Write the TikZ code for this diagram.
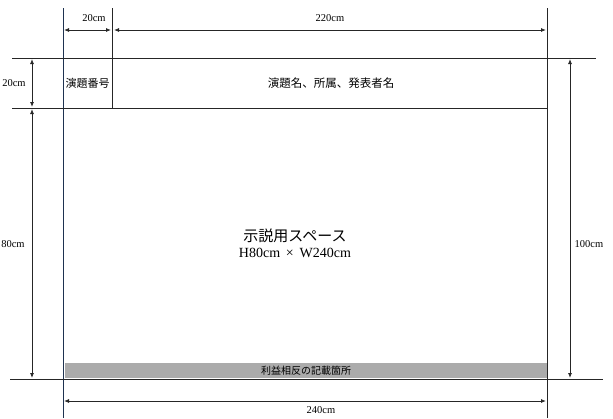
\documentclass[tikz,border=0pt]{standalone}
\usepackage{fontspec}
\setmainfont{Liberation Serif}
\newfontfamily\jpfont{Noto Sans CJK JP}
\usetikzlibrary{arrows.meta}
\begin{document}
\begin{tikzpicture}[x=1pt,y=-1pt,
  edge/.style={line width=0.85pt,draw=black!85},
  dim/.style={line width=0.85pt,draw=black!85,{Latex[length=5pt,width=4pt]}-{Latex[length=5pt,width=4pt]}},
  lbl/.style={font=\fontsize{10.5}{12}\selectfont,inner sep=0pt},
  jp/.style={font=\jpfont\fontsize{11}{12}\selectfont,inner sep=0pt}]
\useasboundingbox (0,0) rectangle (613,418);
% coordinates
\coordinate (Ltop) at (63,8);   \coordinate (Lbot) at (63,418);
\coordinate (Rtop) at (547,8);  \coordinate (Rbot) at (547,418);
\coordinate (Mtop) at (112,8);  \coordinate (Mbot) at (112,108);
\coordinate (H1a) at (12,58);   \coordinate (H1b) at (596,58);
\coordinate (H2a) at (12,108);  \coordinate (H2b) at (547,108);
\coordinate (H3a) at (10,379);  \coordinate (H3b) at (603,379);
% gray band
\fill[fill=black!33] (65,363) rectangle (547,378);
\node[jp,font=\jpfont\fontsize{10}{12}\selectfont] (coi) at (306,370.5) {利益相反の記載箇所};
% frame lines
\draw[edge,draw={rgb,255:red,30;green,50;blue,80}] (Ltop) -- (Lbot);
\draw[edge] (Rtop) -- (Rbot);
\draw[edge] (Mtop) -- (Mbot);
\draw[edge] (H1a) -- (H1b);
\draw[edge] (H2a) -- (H2b);
\draw[edge] (H3a) -- (H3b);
% dimension coordinates
\coordinate (t1a) at (64,30);  \coordinate (t1b) at (111,30);
\coordinate (t2a) at (114,30); \coordinate (t2b) at (546,30);
\coordinate (l1a) at (32,59);  \coordinate (l1b) at (32,107);
\coordinate (l2a) at (32,109); \coordinate (l2b) at (32,378);
\coordinate (r1a) at (570,59); \coordinate (r1b) at (570,378);
\coordinate (b1a) at (64,401); \coordinate (b1b) at (546,401);
\draw[dim] (t1a) -- (t1b);
\draw[dim] (t2a) -- (t2b);
\draw[dim] (l1a) -- (l1b);
\draw[dim] (l2a) -- (l2b);
\draw[dim] (r1a) -- (r1b);
\draw[dim] (b1a) -- (b1b);
% labels
\node[lbl] (d20t) at (94,18) {20cm};
\node[lbl] (d220) at (330,18) {220cm};
\node[lbl] (d20l) at (14,83) {20cm};
\node[lbl] (d80) at (13,244) {80cm};
\node[lbl] (d100) at (589,244) {100cm};
\node[lbl] (d240) at (321,410) {240cm};
\node[jp] (num) at (87.5,83) {演題番号};
\node[jp,font=\jpfont\fontsize{11.5}{12}\selectfont] (title) at (331,83) {演題名、所属、発表者名};
\node[jp,font=\jpfont\fontsize{15}{16}\selectfont] (sp1) at (295,236) {示説用スペース};
\node[lbl,font=\fontsize{14}{16}\selectfont] (sp2) at (295,253) {H80cm \,×\, W240cm};
\end{tikzpicture}
\end{document}
